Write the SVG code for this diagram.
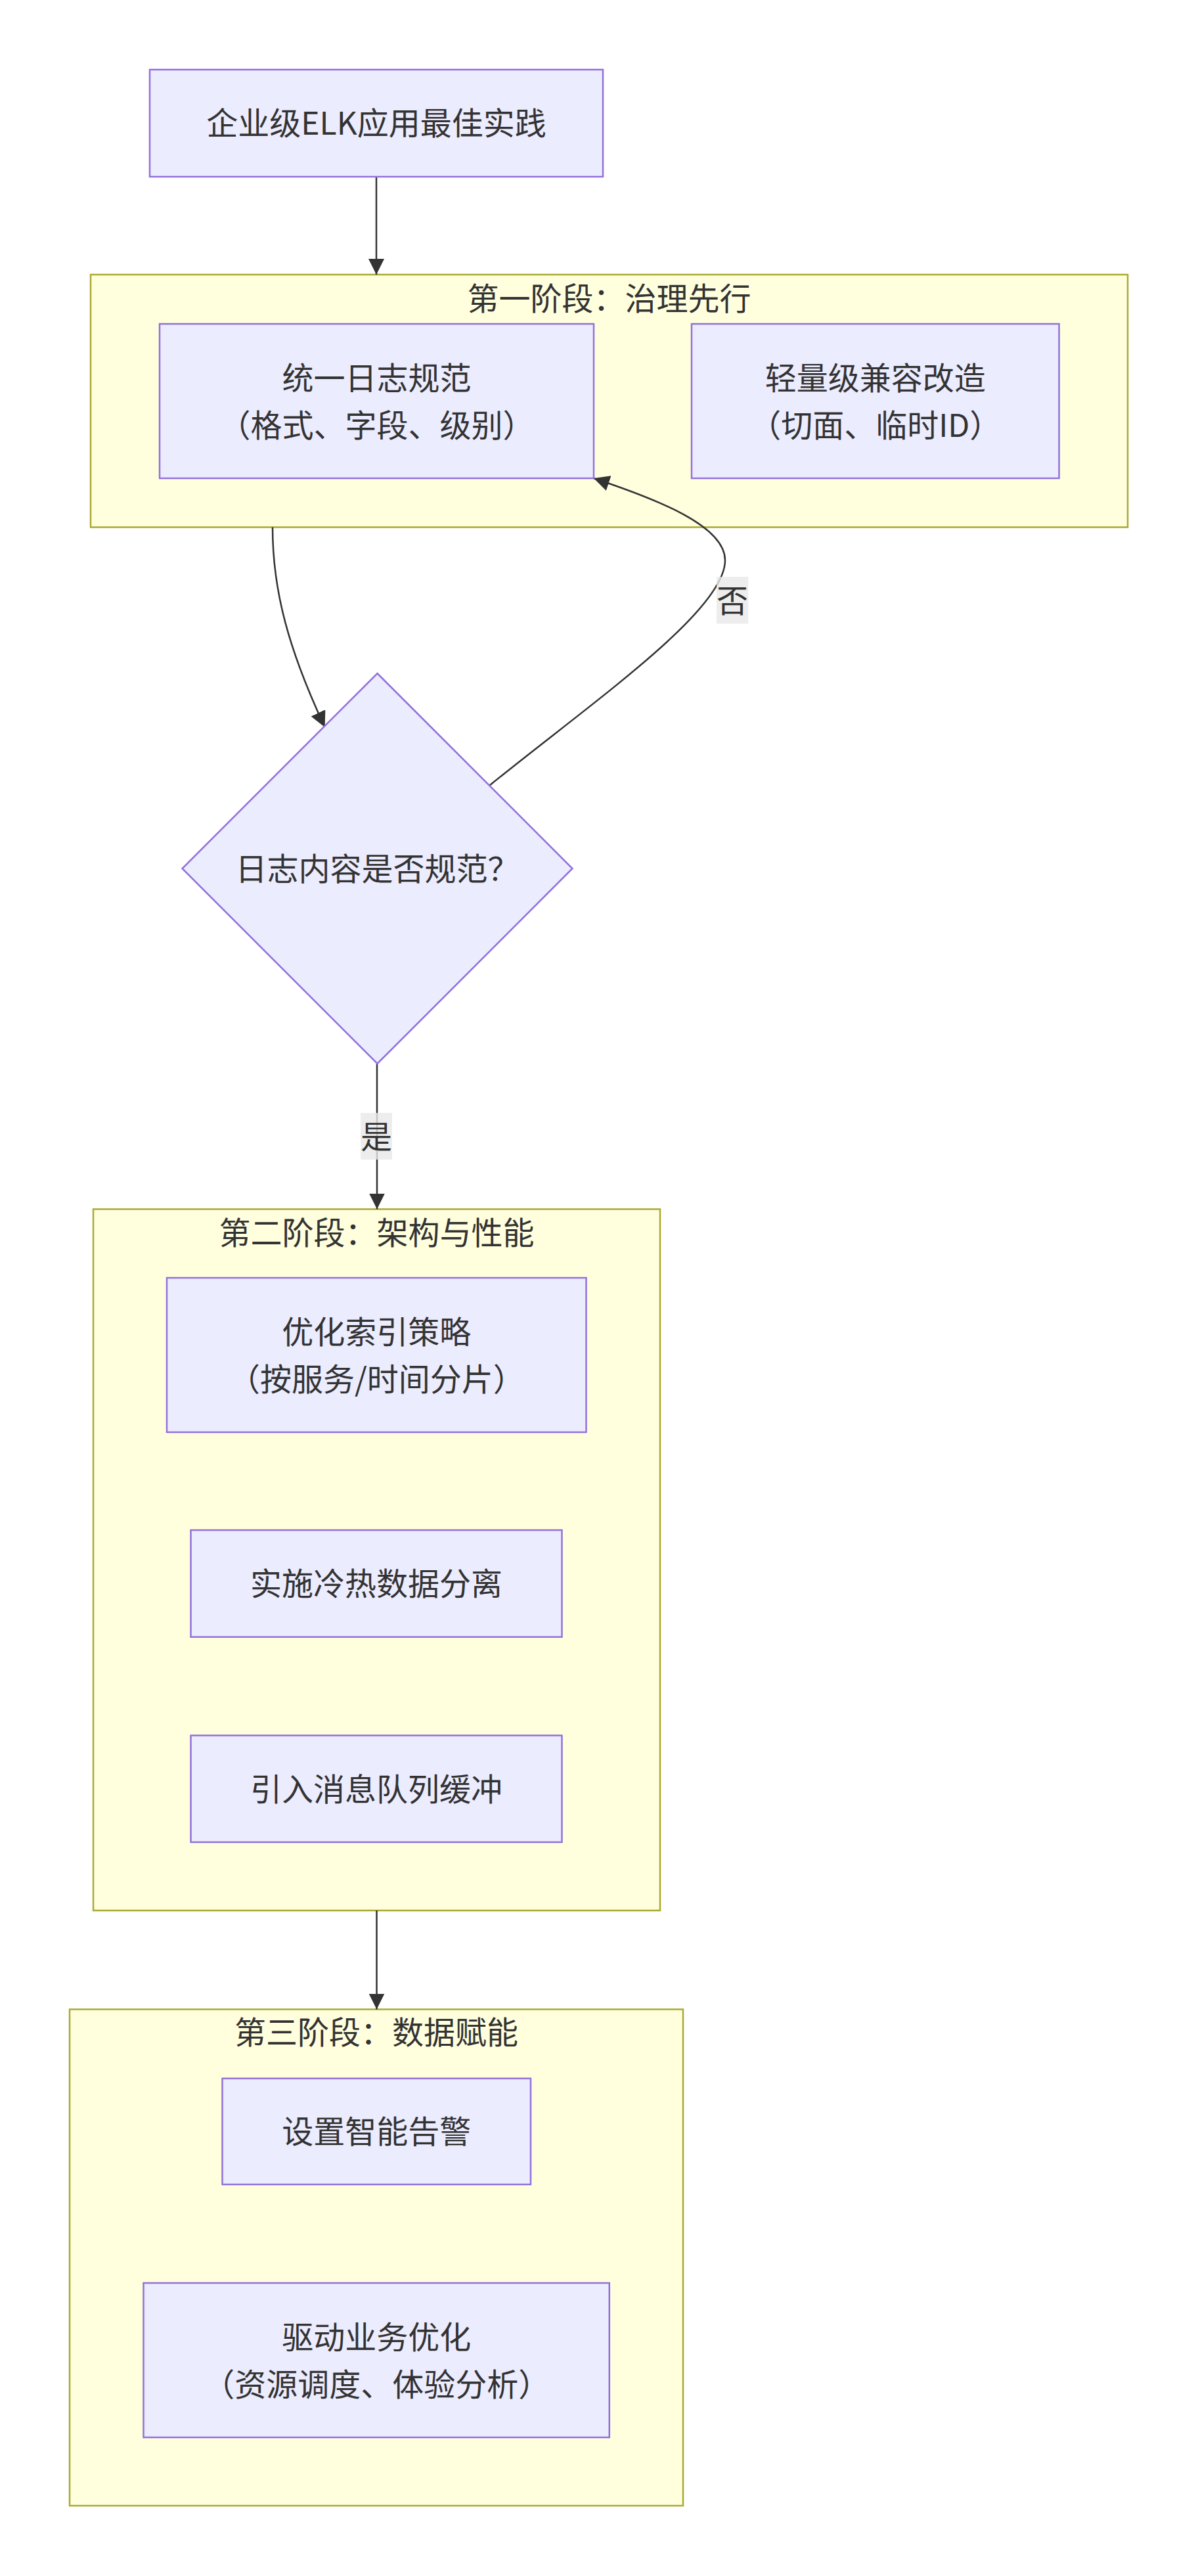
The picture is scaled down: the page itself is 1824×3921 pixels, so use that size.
<svg xmlns="http://www.w3.org/2000/svg" width="1824" height="3921" viewBox="0 0 1824 3921">
<style>
text{font-family:"Noto Sans CJK SC","Noto Sans",sans-serif;font-size:48px;fill:#333333;text-anchor:middle}
.node{fill:#ECECFF;stroke:#9370DB;stroke-width:2.5}
.cluster{fill:#FFFFDE;stroke:#AAAA33;stroke-width:2.5}
.edge{fill:none;stroke:#333333;stroke-width:2.5}
.lbl{fill:#E8E8E8;opacity:0.8}
</style>
<defs>
<marker id="arrow" viewBox="0 0 10 10" refX="10" refY="5" markerUnits="userSpaceOnUse" markerWidth="24" markerHeight="24" orient="auto">
<path d="M0,0 L10,5 L0,10 z" fill="#333333"/>
</marker>
</defs>
<rect width="1824" height="3921" fill="#FFFFFF"/>
<g id="cluster-stage1">
<rect class="cluster" x="138" y="418" width="1579" height="384.5"/>
<text x="927.5" y="472">第一阶段：治理先行</text>
</g>
<g id="cluster-stage2">
<rect class="cluster" x="142" y="1840.5" width="863" height="1067.5"/>
<text x="573.5" y="1894">第二阶段：架构与性能</text>
</g>
<g id="cluster-stage3">
<rect class="cluster" x="106" y="3058.5" width="934" height="755.5"/>
<text x="573" y="3111">第三阶段：数据赋能</text>
</g>
<g id="connectors">
<path class="edge" d="M573,269 L573,418" marker-end="url(#arrow)"/>
<path class="edge" d="M415,802.5 C415,900 440,990 494.6,1107" marker-end="url(#arrow)"/>
<path class="edge" d="M746,1195 C900,1070 1104,930 1104,853 C1104,800 1000,760 904,728" marker-end="url(#arrow)"/>
<path class="edge" d="M574,1619 L574,1840.5" marker-end="url(#arrow)"/>
<path class="edge" d="M573.5,2908 L573.5,3058.5" marker-end="url(#arrow)"/>
<rect class="lbl" x="1091" y="878" width="48.3" height="71.3"/>
<text x="1115" y="932">否</text>
<rect class="lbl" x="549" y="1694" width="48" height="71"/>
<text x="573" y="1747.5">是</text>
</g>
<g id="node-start">
<rect class="node" x="228" y="106" width="690" height="163"/>
<text x="573" y="205">企业级ELK应用最佳实践</text>
</g>
<g id="node-unify">
<rect class="node" x="243" y="493" width="661" height="235"/>
<text x="573.5" y="592.5">统一日志规范</text>
<text x="573.5" y="664.5">（格式、字段、级别）</text>
</g>
<g id="node-compat">
<rect class="node" x="1053" y="493" width="559.5" height="235"/>
<text x="1332.7" y="592.5">轻量级兼容改造</text>
<text x="1332.7" y="664.5">（切面、临时ID）</text>
</g>
<g id="node-check">
<polygon class="node" points="574.5,1025 871.5,1322 574.5,1619 277.5,1322"/>
<text x="574.5" y="1340">日志内容是否规范？</text>
</g>
<g id="node-index">
<rect class="node" x="254" y="1945" width="638.5" height="235"/>
<text x="573.3" y="2044.5">优化索引策略</text>
<text x="573.3" y="2116.5">（按服务/时间分片）</text>
</g>
<g id="node-hotcold">
<rect class="node" x="290.5" y="2329" width="565" height="162.7"/>
<text x="573" y="2428.4">实施冷热数据分离</text>
</g>
<g id="node-mq">
<rect class="node" x="290.5" y="2641.6" width="565" height="162.4"/>
<text x="573" y="2741">引入消息队列缓冲</text>
</g>
<g id="node-alert">
<rect class="node" x="338.5" y="3163.7" width="469.5" height="161.3"/>
<text x="573.2" y="3262.4">设置智能告警</text>
</g>
<g id="node-business">
<rect class="node" x="218.5" y="3475" width="709.3" height="235"/>
<text x="573.2" y="3574.5">驱动业务优化</text>
<text x="573.2" y="3646.5">（资源调度、体验分析）</text>
</g>
</svg>
